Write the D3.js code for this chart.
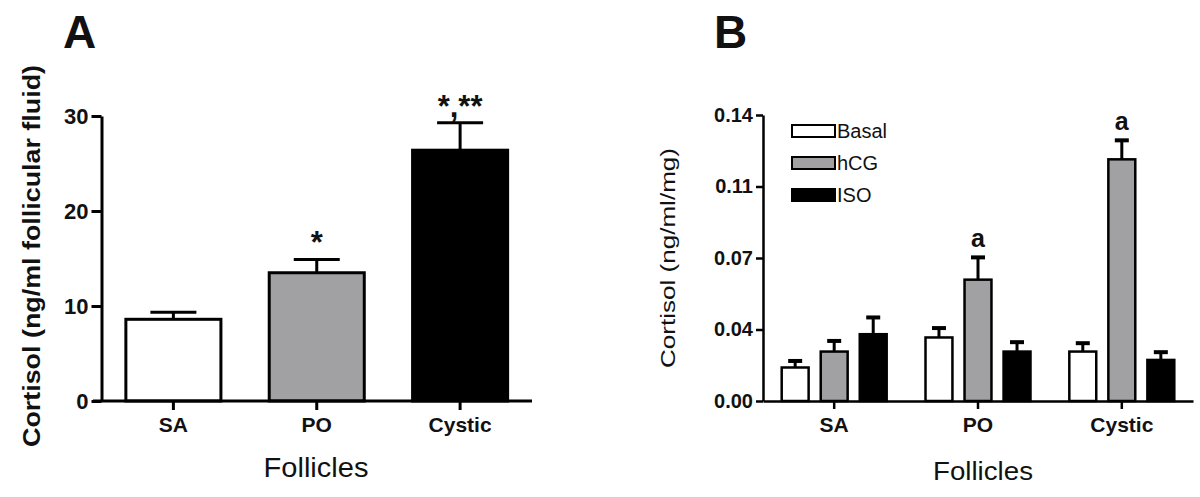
<!DOCTYPE html>
<html>
<head>
<meta charset="utf-8">
<script src="https://cdn.jsdelivr.net/npm/d3@7"></script>
<style>
  body { margin: 0; background: #fff; }
  svg text { font-family: "Liberation Sans", Arial, sans-serif; fill: #111; }
</style>
</head>
<body>
<svg id="chart" width="1200" height="497"></svg>
<script>
// panel A: follicular fluid cortisol
var folliclesA = ["SA", "PO", "Cystic"];
var meanA      = [8.6, 13.5, 26.4];
var semA       = [0.75, 1.4, 2.9];
var signifA    = ["", "*", "*,**"];
var ticksA     = [0, 10, 20, 30];

// panel B: cortisol production in culture
var folliclesB = ["SA", "PO", "Cystic"];
var treatments = ["Basal", "hCG", "ISO"];
var basalB     = [0.0164, 0.0311, 0.0242];
var basalErrB  = [0.0032, 0.0046, 0.0041];
var hcgB       = [0.0242, 0.0594, 0.1183];
var hcgErrB    = [0.0052, 0.0109, 0.0093];
var isoB       = [0.0327, 0.0242, 0.0201];
var isoErrB    = [0.0082, 0.0046, 0.0038];
var signifB    = [["", "", ""], ["", "a", ""], ["", "a", ""]];
var ticksB      = [0, 0.035, 0.07, 0.105, 0.14];
var tickLabelsB = ["0.00", "0.04", "0.07", "0.11", "0.14"];

var fills = {Basal: "#ffffff", hCG: "#a1a1a4", ISO: "#000000"};
var fillA = ["#ffffff", "#a1a1a4", "#000000"];

var svg = d3.select("#chart");
svg.append("rect").attr("width", 1200).attr("height", 497).attr("fill", "#fff");

// ---------- panel A ----------
var xA = d3.scaleBand().domain(folliclesA).range([101.5, 532])
    .paddingInner(0.337).paddingOuter(0.17);
var yA = d3.scaleLinear().domain([0, 30]).range([401, 116]);

var gA = svg.append("g");

gA.append("text").attr("x", 63).attr("y", 48)
    .style("font-size", "46px").style("font-weight", "bold").text("A");

var barsA = gA.selectAll(".barA").data(folliclesA).enter().append("g");

// error bars first so the bar outline sits on top
barsA.append("line")
    .attr("x1", function (d) { return xA(d) + xA.bandwidth() / 2; })
    .attr("x2", function (d) { return xA(d) + xA.bandwidth() / 2; })
    .attr("y1", function (d, i) { return yA(meanA[i]); })
    .attr("y2", function (d, i) { return yA(meanA[i] + semA[i]); })
    .attr("stroke", "#000").attr("stroke-width", 3);
barsA.append("line")
    .attr("x1", function (d) { return xA(d) + xA.bandwidth() / 2 - 23; })
    .attr("x2", function (d) { return xA(d) + xA.bandwidth() / 2 + 23; })
    .attr("y1", function (d, i) { return yA(meanA[i] + semA[i]); })
    .attr("y2", function (d, i) { return yA(meanA[i] + semA[i]); })
    .attr("stroke", "#000").attr("stroke-width", 3);

barsA.append("rect")
    .attr("x", function (d) { return xA(d); })
    .attr("y", function (d, i) { return yA(meanA[i]); })
    .attr("width", xA.bandwidth())
    .attr("height", function (d, i) { return yA(0) - yA(meanA[i]); })
    .attr("fill", function (d, i) { return fillA[i]; })
    .attr("stroke", "#000").attr("stroke-width", 3);

barsA.append("text")
    .attr("x", function (d) { return xA(d) + xA.bandwidth() / 2; })
    .attr("y", function (d, i) { return yA(meanA[i] + semA[i]) - 6; })
    .attr("text-anchor", "middle")
    .style("font-size", "31px").style("font-weight", "bold")
    .text(function (d, i) { return signifA[i]; });

var axA = gA.append("g").attr("transform", "translate(101.5,0)")
    .call(d3.axisLeft(yA).tickValues(ticksA).tickSize(10).tickPadding(3).tickSizeOuter(0));
var axBA = gA.append("g").attr("transform", "translate(0,401)")
    .call(d3.axisBottom(xA).tickSize(9).tickPadding(7).tickSizeOuter(0));
[axA, axBA].forEach(function (ax) {
    ax.select(".domain").attr("stroke", "#000").attr("stroke-width", 3);
    ax.selectAll(".tick line").attr("stroke", "#000").attr("stroke-width", 3);
    ax.selectAll(".tick text").style("font-size", "22px").style("font-weight", "bold")
        .style("font-family", "'Liberation Sans', Arial, sans-serif").attr("fill", "#111");
});
axBA.selectAll(".tick text").style("font-size", "21px");
axBA.select(".domain").attr("d", "M93,0H532");

gA.append("text")
    .attr("transform", "translate(40,256) rotate(-90)")
    .attr("text-anchor", "middle")
    .attr("textLength", 382).attr("lengthAdjust", "spacingAndGlyphs")
    .style("font-size", "23px").style("font-weight", "bold")
    .text("Cortisol (ng/ml follicular fluid)");

gA.append("text").attr("x", 316).attr("y", 477).attr("text-anchor", "middle")
    .attr("textLength", 105).attr("lengthAdjust", "spacingAndGlyphs")
    .style("font-size", "27px").attr("fill", "#222").text("Follicles");

// ---------- panel B ----------
var x0 = d3.scaleBand().domain(folliclesB).range([763, 1193])
    .paddingInner(0.27).paddingOuter(0.13);
var x1 = d3.scaleBand().domain(treatments).range([0, x0.bandwidth()]).paddingInner(0.31);
var yB = d3.scaleLinear().domain([0, 0.14]).range([401, 115]);

var seriesB = {
    Basal: {val: basalB, err: basalErrB},
    hCG:   {val: hcgB,   err: hcgErrB},
    ISO:   {val: isoB,   err: isoErrB}
};

var gB = svg.append("g");

gB.append("text").attr("x", 714).attr("y", 48)
    .style("font-size", "46px").style("font-weight", "bold").text("B");

var cells = [];
folliclesB.forEach(function (f, i) {
    treatments.forEach(function (t, j) {
        cells.push({f: f, t: t, v: seriesB[t].val[i], e: seriesB[t].err[i], s: signifB[i][j]});
    });
});

var cellG = gB.selectAll(".cell").data(cells).enter().append("g")
    .attr("transform", function (d) { return "translate(" + (x0(d.f) + x1(d.t)) + ",0)"; });
var bw = x1.bandwidth();

cellG.append("line")
    .attr("x1", bw / 2).attr("x2", bw / 2)
    .attr("y1", function (d) { return yB(d.v); })
    .attr("y2", function (d) { return yB(d.v + d.e); })
    .attr("stroke", "#000").attr("stroke-width", 3);
cellG.append("line")
    .attr("x1", bw / 2 - 7).attr("x2", bw / 2 + 7)
    .attr("y1", function (d) { return yB(d.v + d.e); })
    .attr("y2", function (d) { return yB(d.v + d.e); })
    .attr("stroke", "#000").attr("stroke-width", 4);
cellG.append("rect")
    .attr("x", 0).attr("width", bw)
    .attr("y", function (d) { return yB(d.v); })
    .attr("height", function (d) { return yB(0) - yB(d.v); })
    .attr("fill", function (d) { return fills[d.t]; })
    .attr("stroke", "#000").attr("stroke-width", 2.5);
cellG.append("text")
    .attr("x", bw / 2)
    .attr("y", function (d) { return yB(d.v + d.e) - 10; })
    .attr("text-anchor", "middle")
    .style("font-size", "25px").style("font-weight", "bold")
    .text(function (d) { return d.s; });

var axB = gB.append("g").attr("transform", "translate(763,0)")
    .call(d3.axisLeft(yB).tickValues(ticksB).tickSize(7).tickPadding(3).tickSizeOuter(0)
        .tickFormat(function (d, i) { return tickLabelsB[i]; }));
var axBB = gB.append("g").attr("transform", "translate(0,401)")
    .call(d3.axisBottom(x0).tickSize(8).tickPadding(8).tickSizeOuter(0));
[axB, axBB].forEach(function (ax) {
    ax.select(".domain").attr("stroke", "#000").attr("stroke-width", 2.5);
    ax.selectAll(".tick line").attr("stroke", "#000").attr("stroke-width", 2.5);
    ax.selectAll(".tick text").style("font-size", "20px").style("font-weight", "bold")
        .style("font-family", "'Liberation Sans', Arial, sans-serif").attr("fill", "#111");
});
axBB.selectAll(".tick text").style("font-size", "21px");

// legend
var leg = gB.selectAll(".leg").data(treatments).enter().append("g")
    .attr("transform", function (d, i) { return "translate(792," + (131 + i * 32) + ")"; });
leg.append("rect").attr("x", 0).attr("y", -6).attr("width", 43).attr("height", 12)
    .attr("fill", function (d) { return fills[d]; })
    .attr("stroke", "#000").attr("stroke-width", 2);
leg.append("text").attr("x", 45).attr("y", 7)
    .style("font-size", "20px").attr("fill", "#333").text(function (d) { return d; });

gB.append("text")
    .attr("transform", "translate(675,258) rotate(-90)")
    .attr("text-anchor", "middle")
    .attr("textLength", 220).attr("lengthAdjust", "spacingAndGlyphs")
    .style("font-size", "21px").attr("fill", "#222")
    .text("Cortisol (ng/ml/mg)");

gB.append("text").attr("x", 983).attr("y", 480).attr("text-anchor", "middle")
    .attr("textLength", 100).attr("lengthAdjust", "spacingAndGlyphs")
    .style("font-size", "26px").attr("fill", "#222").text("Follicles");
</script>
</body>
</html>
